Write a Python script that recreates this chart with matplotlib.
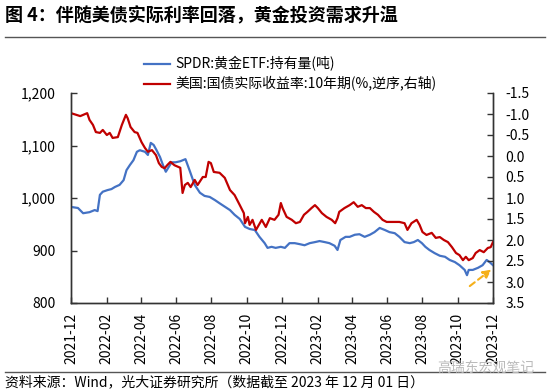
import matplotlib
matplotlib.use("Agg")
import matplotlib.pyplot as plt
import matplotlib.dates as mdates
import matplotlib.ticker as mticker
import pandas as pd

plt.rcParams['font.family'] = ['Noto Sans CJK SC', 'DejaVu Sans']

title = "图 4：伴随美债实际利率回落，黄金投资需求升温"
source = "资料来源：Wind，光大证券研究所（数据截至 2023 年 12 月 01 日）"
watermark = "高瑞东宏观笔记"
label_spdr = "SPDR:黄金ETF:持有量(吨)"
label_tips = "美国:国债实际收益率:10年期(%,逆序,右轴)"

spdr_dates = ["2021-12-01", "2021-12-13", "2021-12-22", "2022-01-02", "2022-01-11", "2022-01-16",
              "2022-01-20", "2022-01-25", "2022-02-02", "2022-02-09", "2022-02-15", "2022-02-23",
              "2022-03-02", "2022-03-07", "2022-03-13", "2022-03-19", "2022-03-25", "2022-03-30",
              "2022-04-08", "2022-04-13", "2022-04-18", "2022-04-23", "2022-04-28", "2022-05-04",
              "2022-05-09", "2022-05-14", "2022-05-19", "2022-05-24", "2022-05-31", "2022-06-08",
              "2022-06-17", "2022-06-24", "2022-07-03", "2022-07-12", "2022-07-20", "2022-07-29",
              "2022-08-07", "2022-08-15", "2022-09-02", "2022-09-10", "2022-09-19", "2022-09-28",
              "2022-10-06", "2022-10-15", "2022-10-23", "2022-11-01", "2022-11-06", "2022-11-13",
              "2022-11-20", "2022-11-29", "2022-12-06", "2022-12-14", "2022-12-23", "2023-01-01",
              "2023-01-09", "2023-01-18", "2023-01-27", "2023-02-04", "2023-02-13", "2023-02-21",
              "2023-03-02", "2023-03-07", "2023-03-12", "2023-03-21", "2023-03-28", "2023-04-06",
              "2023-04-14", "2023-04-23", "2023-05-02", "2023-05-10", "2023-05-19", "2023-05-28",
              "2023-06-05", "2023-06-14", "2023-06-22", "2023-07-01", "2023-07-10", "2023-07-17",
              "2023-07-24", "2023-07-31", "2023-08-06", "2023-08-13", "2023-08-22", "2023-08-31",
              "2023-09-09", "2023-09-17", "2023-09-26", "2023-10-04", "2023-10-13", "2023-10-17",
              "2023-10-20", "2023-10-27", "2023-11-05", "2023-11-13", "2023-11-20", "2023-11-25",
              "2023-12-01"]
spdr_values = [983, 981, 971, 973, 977, 975,
               1006, 1012, 1015, 1017, 1021, 1025,
               1034, 1053, 1063, 1072, 1088, 1091,
               1088, 1082, 1105, 1101, 1091, 1078,
               1063, 1050, 1059, 1068, 1068, 1070,
               1074, 1053, 1025, 1010, 1004, 1002,
               996, 990, 977, 968, 960, 945,
               941, 939, 926, 914, 905, 907,
               905, 907, 905, 914, 914, 912,
               910, 914, 916, 918, 916, 914,
               909, 901, 920, 926, 926, 930,
               931, 926, 930, 935, 943, 939,
               935, 933, 926, 916, 914, 916,
               920, 914, 907, 901, 895, 890,
               888, 882, 878, 872, 863, 853,
               863, 863, 867, 872, 882, 878,
               872]

tips_dates = ["2021-12-01", "2021-12-17", "2021-12-29", "2022-01-02", "2022-01-08", "2022-01-13",
              "2022-01-20", "2022-01-25", "2022-02-01", "2022-02-06", "2022-02-11", "2022-02-20",
              "2022-02-27", "2022-03-06", "2022-03-09", "2022-03-14", "2022-03-21", "2022-03-26",
              "2022-04-02", "2022-04-08", "2022-04-13", "2022-04-20", "2022-04-27", "2022-05-02",
              "2022-05-07", "2022-05-12", "2022-05-17", "2022-05-22", "2022-05-29", "2022-06-08",
              "2022-06-12", "2022-06-16", "2022-06-21", "2022-06-26", "2022-07-03", "2022-07-08",
              "2022-07-17", "2022-07-22", "2022-07-27", "2022-07-31", "2022-08-05", "2022-08-15",
              "2022-08-24", "2022-09-02", "2022-09-10", "2022-09-19", "2022-09-26", "2022-09-28",
              "2022-10-03", "2022-10-06", "2022-10-11", "2022-10-17", "2022-10-27", "2022-11-03",
              "2022-11-10", "2022-11-18", "2022-11-25", "2022-11-29", "2022-12-02", "2022-12-09",
              "2022-12-18", "2022-12-25", "2023-01-01", "2023-01-08", "2023-01-14", "2023-01-21",
              "2023-01-27", "2023-02-01", "2023-02-08", "2023-02-16", "2023-02-25", "2023-03-03",
              "2023-03-07", "2023-03-10", "2023-03-19", "2023-03-28", "2023-04-04", "2023-04-11",
              "2023-04-18", "2023-04-25", "2023-05-02", "2023-05-09", "2023-05-16", "2023-05-24",
              "2023-05-31", "2023-06-05", "2023-06-14", "2023-06-22", "2023-07-01", "2023-07-06",
              "2023-07-13", "2023-07-22", "2023-07-27", "2023-08-01", "2023-08-08", "2023-08-17",
              "2023-08-24", "2023-08-31", "2023-09-07", "2023-09-14", "2023-09-21", "2023-09-28",
              "2023-10-04", "2023-10-10", "2023-10-15", "2023-10-20", "2023-10-27", "2023-11-01",
              "2023-11-08", "2023-11-15", "2023-11-22", "2023-11-27", "2023-12-01"]
tips_values = [-1.02, -0.95, -1.02, -0.86, -0.74, -0.57,
               -0.55, -0.62, -0.50, -0.55, -0.43, -0.45,
               -0.74, -0.98, -0.90, -0.69, -0.57, -0.55,
               -0.33, -0.19, -0.10, -0.14, -0.02, 0.17,
               0.26, 0.29, 0.21, 0.14, 0.22, 0.28,
               0.88, 0.69, 0.64, 0.74, 0.57, 0.69,
               0.50, 0.50, 0.14, 0.17, 0.38, 0.40,
               0.52, 0.81, 0.93, 1.17, 1.36, 1.60,
               1.45, 1.64, 1.52, 1.76, 1.52, 1.69,
               1.48, 1.52, 1.40, 1.12, 1.24, 1.45,
               1.52, 1.60, 1.57, 1.40, 1.33, 1.24,
               1.17, 1.24, 1.36, 1.45, 1.52, 1.60,
               1.48, 1.33, 1.24, 1.17, 1.10, 1.21,
               1.17, 1.24, 1.24, 1.33, 1.40, 1.52,
               1.57, 1.57, 1.57, 1.57, 1.60, 1.76,
               1.60, 1.52, 1.64, 1.81, 1.88, 1.83,
               1.95, 1.93, 2.00, 2.05, 2.17, 2.31,
               2.36, 2.48, 2.40, 2.48, 2.43, 2.31,
               2.24, 2.29, 2.19, 2.17, 2.05]

left_ticks = [800, 900, 1000, 1100, 1200]
right_ticks = [-1.5, -1.0, -0.5, 0.0, 0.5, 1.0, 1.5, 2.0, 2.5, 3.0, 3.5]
x_start, x_end = "2021-12-01", "2023-12-01"
arrow_from = ("2023-10-18", 829)
arrow_to = ("2023-12-02", 867)

blue = "#4472C4"
red = "#C00000"

fig = plt.figure(figsize=(5.5, 3.92), dpi=100)
ax = fig.add_axes([71/550, 1-303/392, (493-71)/550, (303-93)/392])
ax2 = ax.twinx()

sd = pd.to_datetime(spdr_dates)
td = pd.to_datetime(tips_dates)
l1, = ax.plot(sd, spdr_values, color=blue, lw=1.6, label=label_spdr, zorder=3)
l2, = ax2.plot(td, tips_values, color=red, lw=1.6, label=label_tips)

ax.set_xlim(pd.Timestamp(x_start), pd.Timestamp(x_end))
ax.set_ylim(left_ticks[0], left_ticks[-1])
ax.set_yticks(left_ticks)
ax.yaxis.set_major_formatter(mticker.FuncFormatter(lambda v, p: f"{int(v):,}"))
ax2.set_ylim(right_ticks[-1], right_ticks[0])
ax2.set_yticks(right_ticks)
ax2.yaxis.set_major_formatter(mticker.FormatStrFormatter("%.1f"))

ax.xaxis.set_major_locator(mdates.MonthLocator(bymonth=[2, 4, 6, 8, 10, 12]))
ax.xaxis.set_major_formatter(mdates.DateFormatter("%Y-%m"))
for lab in ax.get_xticklabels():
    lab.set_rotation(90)

for a in (ax, ax2):
    a.spines['top'].set_visible(False)
    for s in ('left', 'right', 'bottom'):
        a.spines[s].set_color('#333333')
        a.spines[s].set_linewidth(1.0)
    a.tick_params(direction='in', length=4, width=1, colors='#333333', labelsize=10, labelcolor='black')
ax.tick_params(axis='y', pad=11)
ax2.tick_params(axis='y', pad=9)
ax.tick_params(axis='x', pad=7)

ax2.annotate("", xy=(mdates.date2num(pd.Timestamp(arrow_to[0])), arrow_to[1]), xycoords=ax.transData,
             xytext=(mdates.date2num(pd.Timestamp(arrow_from[0])), arrow_from[1]), textcoords=ax.transData,
             arrowprops=dict(arrowstyle="-|>", color="#F5B01A", lw=1.5, ls=(0, (3, 2)),
                             mutation_scale=12), zorder=5, annotation_clip=False)

fig.legend(handles=[l1, l2], loc='upper left', bbox_to_anchor=(138/550, 1-51/392),
           frameon=False, fontsize=10, handlelength=1.9, handletextpad=0.4,
           labelspacing=0.35, borderaxespad=0)

fig.text(5/550, 1-16/392, title, fontsize=13, fontweight='bold', va='center', ha='left')
fig.add_artist(plt.Line2D([5/550, 545/550], [1-37/392, 1-37/392], color='#555555', lw=1.0))
fig.add_artist(plt.Line2D([5/550, 545/550], [1-372/392, 1-372/392], color='#555555', lw=1.0))
fig.text(5/550, 1-382/392, source, fontsize=10, va='center', ha='left')
fig.text(437/550, 1-368/392, watermark, fontsize=10, va='center', ha='left', color='#BBBBBB')

fig.savefig("out.png", dpi=100)
